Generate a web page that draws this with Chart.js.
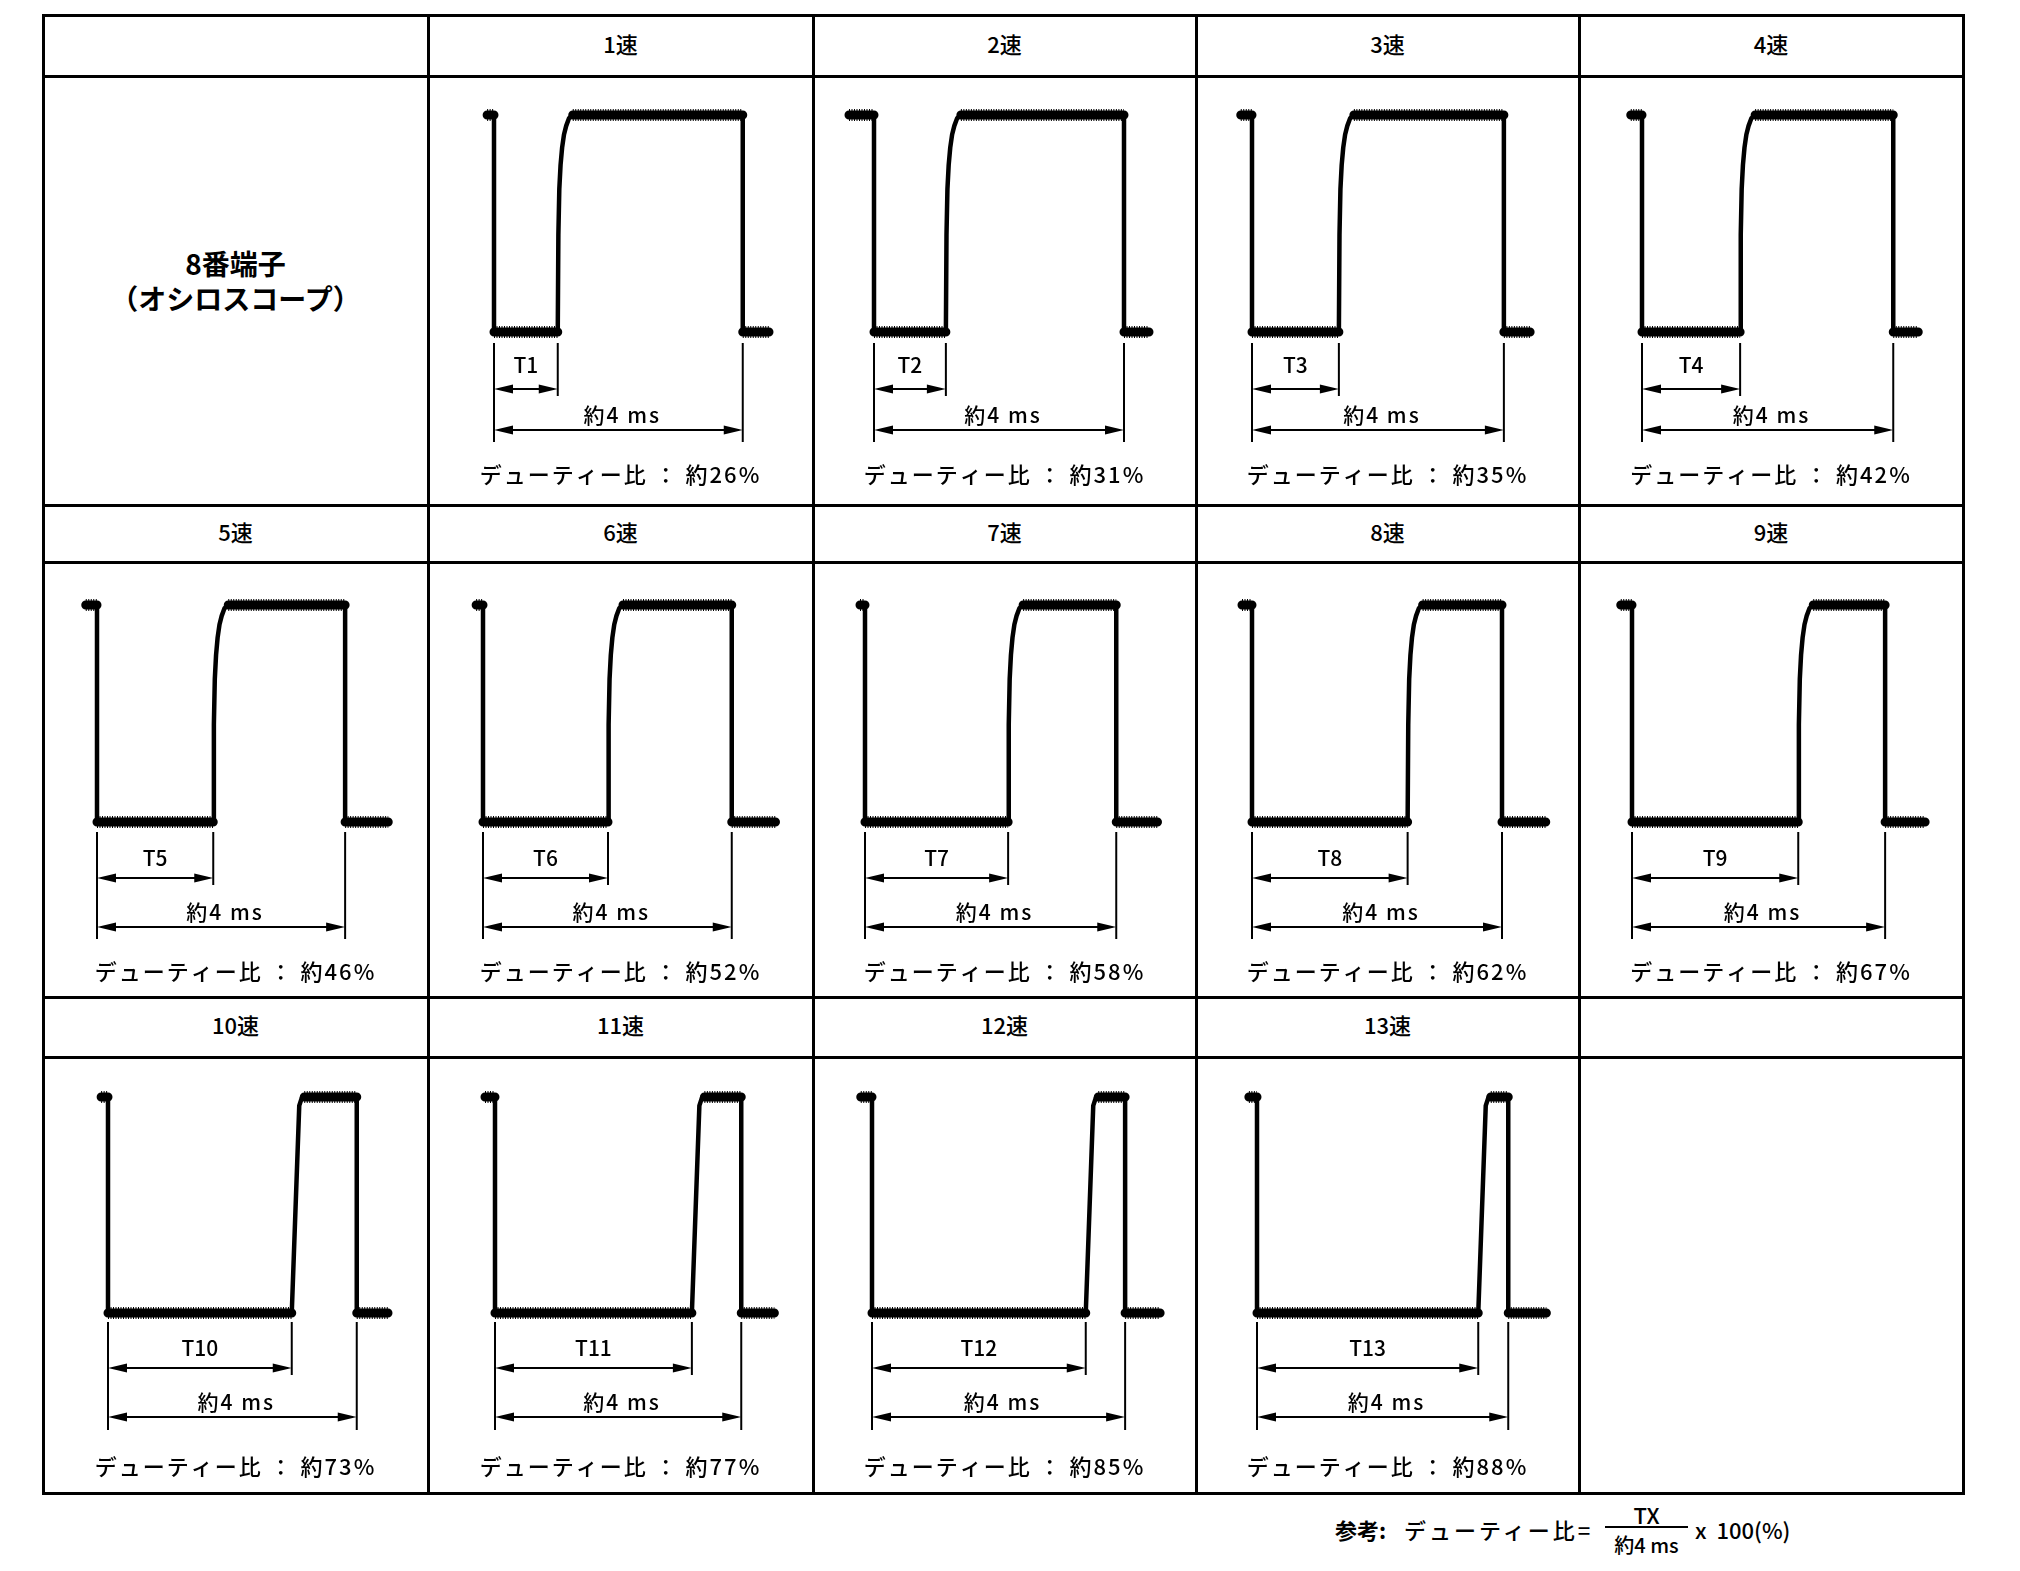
<!DOCTYPE html>
<html lang="ja">
<head>
<meta charset="utf-8">
<title>8番端子 デューティー比</title>
<script src="https://cdn.jsdelivr.net/npm/chart.js@4.4.1/dist/chart.umd.min.js"></script>
<style>
  body {
    margin: 0;
    width: 2020px;
    height: 1571px;
    position: relative;
    overflow: hidden;
    background: #fff;
    color: #000;
    font-family: "Noto Sans CJK JP", "Noto Sans", sans-serif;
  }
  .rule { position: absolute; background: #000; z-index: 2; }
  .head {
    position: absolute;
    display: flex;
    align-items: center;
    justify-content: center;
    font-size: 22px;
    font-weight: 500;
  }
  .head span { position: relative; top: -3px; }
  .label {
    position: absolute;
    display: flex;
    flex-direction: column;
    align-items: center;
    justify-content: center;
    font-size: 28px;
    font-weight: bold;
    line-height: 35px;
  }
  canvas.wave { position: absolute; z-index: 1; }
  .note { position: absolute; font-size: 22px; line-height: 1; white-space: nowrap; font-weight: 500; }
</style>
</head>
<body>
<div id="sheet"></div>
<script>
// speed names and duty ratios printed under each trace
const speeds = ['1速', '2速', '3速', '4速', '5速', '6速', '7速', '8速', '9速', '10速', '11速', '12速', '13速'];
const dutyLabels = ['約26%', '約31%', '約35%', '約42%', '約46%', '約52%', '約58%', '約62%', '約67%', '約73%', '約77%', '約85%', '約88%'];

// times in ms, measured from the falling edge (t = 0)
const riseTimes = [1.02, 1.15, 1.39, 1.57, 1.86, 2.00, 2.29, 2.49, 2.66, 2.94, 3.15, 3.42, 3.54];
const periods = [3.98, 4.00, 4.03, 4.02, 3.97, 3.98, 4.02, 4.00, 4.05, 3.98, 3.94, 4.05, 4.02];
const traceStart = [-0.11, -0.40, -0.18, -0.18, -0.18, -0.11, -0.08, -0.16, -0.18, -0.11, -0.16, -0.18, -0.13];
const traceEnd = [4.40, 4.40, 4.45, 4.42, 4.66, 4.68, 4.68, 4.70, 4.69, 4.48, 4.47, 4.61, 4.63];
const riseShape = ['curve', 'curve', 'curve', 'curve', 'curve', 'curve', 'curve', 'curve', 'curve', 'ramp', 'ramp', 'ramp', 'ramp'];

// rising edge shapes (time after the edge, level 0..1)
const curveDt = [0, 0.01, 0.025, 0.045, 0.07, 0.1, 0.135, 0.18, 0.24];
const curveLevel = [0, 0.45, 0.66, 0.77, 0.85, 0.91, 0.95, 0.985, 1];
const rampDt = [0, 0.12, 0.16, 0.2];
const rampLevel = [0, 0.96, 0.995, 1];

// page layout
const colX = [43, 428, 813, 1196, 1579, 1963];
const rowY = [15, 76, 505, 562, 997, 1057, 1493];
const PX_PER_MS = 62.5;
const fallOffset = [66, 61, 56, 63, 54, 55, 52, 56, 53, 65, 67, 59, 61];
const rowLayout = [
    { high: 39, low: 256, ext: 11, tLabel: 33, tArrow: 57, tExt: 64, msLabel: 83, msArrow: 98, msExt: 110, duty: 143 },
    { high: 43, low: 260, ext: 10, tLabel: 36, tArrow: 56, tExt: 63, msLabel: 90, msArrow: 105, msExt: 117, duty: 150 },
    { high: 40, low: 256, ext: 9, tLabel: 35, tArrow: 55, tExt: 62, msLabel: 89, msArrow: 104, msExt: 117, duty: 154 }
];
const FONT = '"Noto Sans CJK JP", "Noto Sans", sans-serif';

const sheet = document.getElementById('sheet');

function addBox(cls, left, top, width, height, html) {
    const el = document.createElement('div');
    el.className = cls;
    el.style.left = left + 'px';
    el.style.top = top + 'px';
    el.style.width = width + 'px';
    el.style.height = height + 'px';
    if (html) el.innerHTML = html;
    sheet.appendChild(el);
    return el;
}

function cellPos(i) {
    if (i < 4) return { col: i + 1, hr: 0 };
    if (i < 9) return { col: i - 4, hr: 2 };
    return { col: i - 9, hr: 4 };
}

// table rules
colX.forEach(x => addBox('rule', x - 1.5, rowY[0] - 1.5, 3, rowY[6] - rowY[0] + 3));
rowY.forEach(y => addBox('rule', colX[0] - 1.5, y - 1.5, colX[5] - colX[0] + 3, 3));

// left label cell
addBox('label', colX[0], rowY[1] - 10, colX[1] - colX[0], rowY[2] - rowY[1],
    '<div>8番端子</div><div>（オシロスコープ）</div>');

function arrowHead(ctx, x, y, dir) {
    ctx.beginPath();
    ctx.moveTo(x, y);
    ctx.lineTo(x - dir * 19, y - 4.5);
    ctx.lineTo(x - dir * 19, y + 4.5);
    ctx.closePath();
    ctx.fill();
}

function dimension(ctx, xa, xb, y) {
    ctx.beginPath();
    ctx.moveTo(xa + 4, y);
    ctx.lineTo(xb - 4, y);
    ctx.stroke();
    arrowHead(ctx, xa, y, -1);
    arrowHead(ctx, xb, y, 1);
}

function vline(ctx, x, y0, y1) {
    ctx.beginPath();
    ctx.moveTo(x, y0);
    ctx.lineTo(x, y1);
    ctx.stroke();
}

// T / 約4 ms dimension lines and the duty text, placed with the x scale
const dimensionPlugin = {
    id: 'dimensions',
    afterDatasetsDraw(chart, args, opts) {
        const ctx = chart.ctx;
        const xs = chart.scales.x, ys = chart.scales.y;
        const lay = rowLayout[opts.row];
        const x0 = xs.getPixelForValue(0);
        const xT = xs.getPixelForValue(opts.t);
        const xP = xs.getPixelForValue(opts.period);
        const yLow = ys.getPixelForValue(0);

        ctx.save();
        ctx.strokeStyle = '#000';
        ctx.fillStyle = '#000';
        ctx.lineWidth = 2;
        vline(ctx, x0, yLow + lay.ext, yLow + lay.msExt);
        vline(ctx, xT, yLow + lay.ext, yLow + lay.tExt);
        vline(ctx, xP, yLow + lay.ext, yLow + lay.msExt);
        dimension(ctx, x0, xT, yLow + lay.tArrow);
        dimension(ctx, x0, xP, yLow + lay.msArrow);

        ctx.textAlign = 'center';
        ctx.textBaseline = 'middle';
        ctx.font = '500 21px ' + FONT;
        ctx.fillText(opts.tName, (x0 + xT) / 2, yLow + lay.tLabel);
        ctx.letterSpacing = '2px';
        ctx.fillText('約4 ms', (x0 + xP) / 2 + 4, yLow + lay.msLabel);
        ctx.font = '500 22px ' + FONT;
        ctx.fillText('デューティー比 ： ' + opts.duty, chart.width / 2, yLow + lay.duty);
        ctx.restore();
    }
};

function buildTrace(i) {
    const t = riseTimes[i];
    const dt = riseShape[i] === 'curve' ? curveDt : rampDt;
    const lv = riseShape[i] === 'curve' ? curveLevel : rampLevel;
    const pts = [{ x: traceStart[i], y: 1 }, { x: 0, y: 1 }, { x: 0, y: 0 }, { x: t, y: 0 }];
    for (let k = 1; k < dt.length; k++) pts.push({ x: t + dt[k], y: lv[k] });
    pts.push({ x: periods[i], y: 1 }, { x: periods[i], y: 0 }, { x: traceEnd[i], y: 0 });
    return pts;
}

function buildLevels(i) {
    const t = riseTimes[i];
    const dt = riseShape[i] === 'curve' ? curveDt : rampDt;
    const top = t + dt[dt.length - 1];
    return [
        { x: traceStart[i], y: 1 }, { x: 0, y: 1 }, { x: 0, y: null },
        { x: 0, y: 0 }, { x: t, y: 0 }, { x: t, y: null },
        { x: top, y: 1 }, { x: periods[i], y: 1 }, { x: periods[i], y: null },
        { x: periods[i], y: 0 }, { x: traceEnd[i], y: 0 }
    ];
}

speeds.forEach((name, i) => {
    const pos = cellPos(i);
    const row = pos.hr / 2;
    const left = colX[pos.col], width = colX[pos.col + 1] - left;

    // header cell
    addBox('head', left, rowY[pos.hr], width, rowY[pos.hr + 1] - rowY[pos.hr], '<span>' + name + '</span>');

    // waveform cell
    const top = rowY[pos.hr + 1], height = rowY[pos.hr + 2] - top;
    const canvas = document.createElement('canvas');
    canvas.className = 'wave';
    canvas.width = width;
    canvas.height = height;
    canvas.style.left = left + 'px';
    canvas.style.top = top + 'px';
    sheet.appendChild(canvas);

    const lay = rowLayout[row];
    const unit = lay.low - lay.high;
    const xMin = -fallOffset[i] / PX_PER_MS;

    new Chart(canvas, {
        type: 'line',
        data: {
            datasets: [
                {
                    data: buildTrace(i),
                    borderColor: '#000',
                    borderWidth: 4.5,
                    borderJoinStyle: 'round',
                    pointRadius: 0,
                    clip: false
                },
                {
                    data: buildLevels(i),
                    borderColor: '#000',
                    borderWidth: 9,
                    borderCapStyle: 'round',
                    pointRadius: 0,
                    spanGaps: false,
                    clip: false
                },
                {
                    data: buildLevels(i),
                    borderColor: '#000',
                    borderWidth: 12,
                    borderDash: [1, 1.5],
                    pointRadius: 0,
                    spanGaps: false,
                    clip: false
                }
            ]
        },
        options: {
            responsive: false,
            animation: false,
            devicePixelRatio: 1,
            events: [],
            layout: { padding: 0 },
            plugins: {
                legend: { display: false },
                tooltip: { enabled: false },
                dimensions: { row: row, t: riseTimes[i], period: periods[i], tName: 'T' + (i + 1), duty: dutyLabels[i] }
            },
            scales: {
                x: { type: 'linear', display: false, min: xMin, max: xMin + width / PX_PER_MS },
                y: { type: 'linear', display: false, min: -(height - lay.low) / unit, max: 1 + lay.high / unit }
            }
        },
        plugins: [dimensionPlugin]
    });
});

// footnote with the duty formula
function note(text, left, top, extra) {
    const el = document.createElement('div');
    el.className = 'note';
    el.textContent = text;
    el.style.left = left + 'px';
    el.style.top = top + 'px';
    Object.assign(el.style, extra || {});
    sheet.appendChild(el);
    return el;
}
note('参考:', 1335, 1518, { fontWeight: 'bold' });
note('デューティー比=', 1404, 1518, { letterSpacing: '3px' });
note('TX', 1605, 1503, { width: '83px', textAlign: 'center' });
addBox('rule', 1605, 1526, 83, 2);
note('約4 ms', 1605, 1535, { width: '83px', textAlign: 'center', fontSize: '20px' });
note('x  100(%)', 1695, 1518, { whiteSpace: 'pre' });
</script>
</body>
</html>
